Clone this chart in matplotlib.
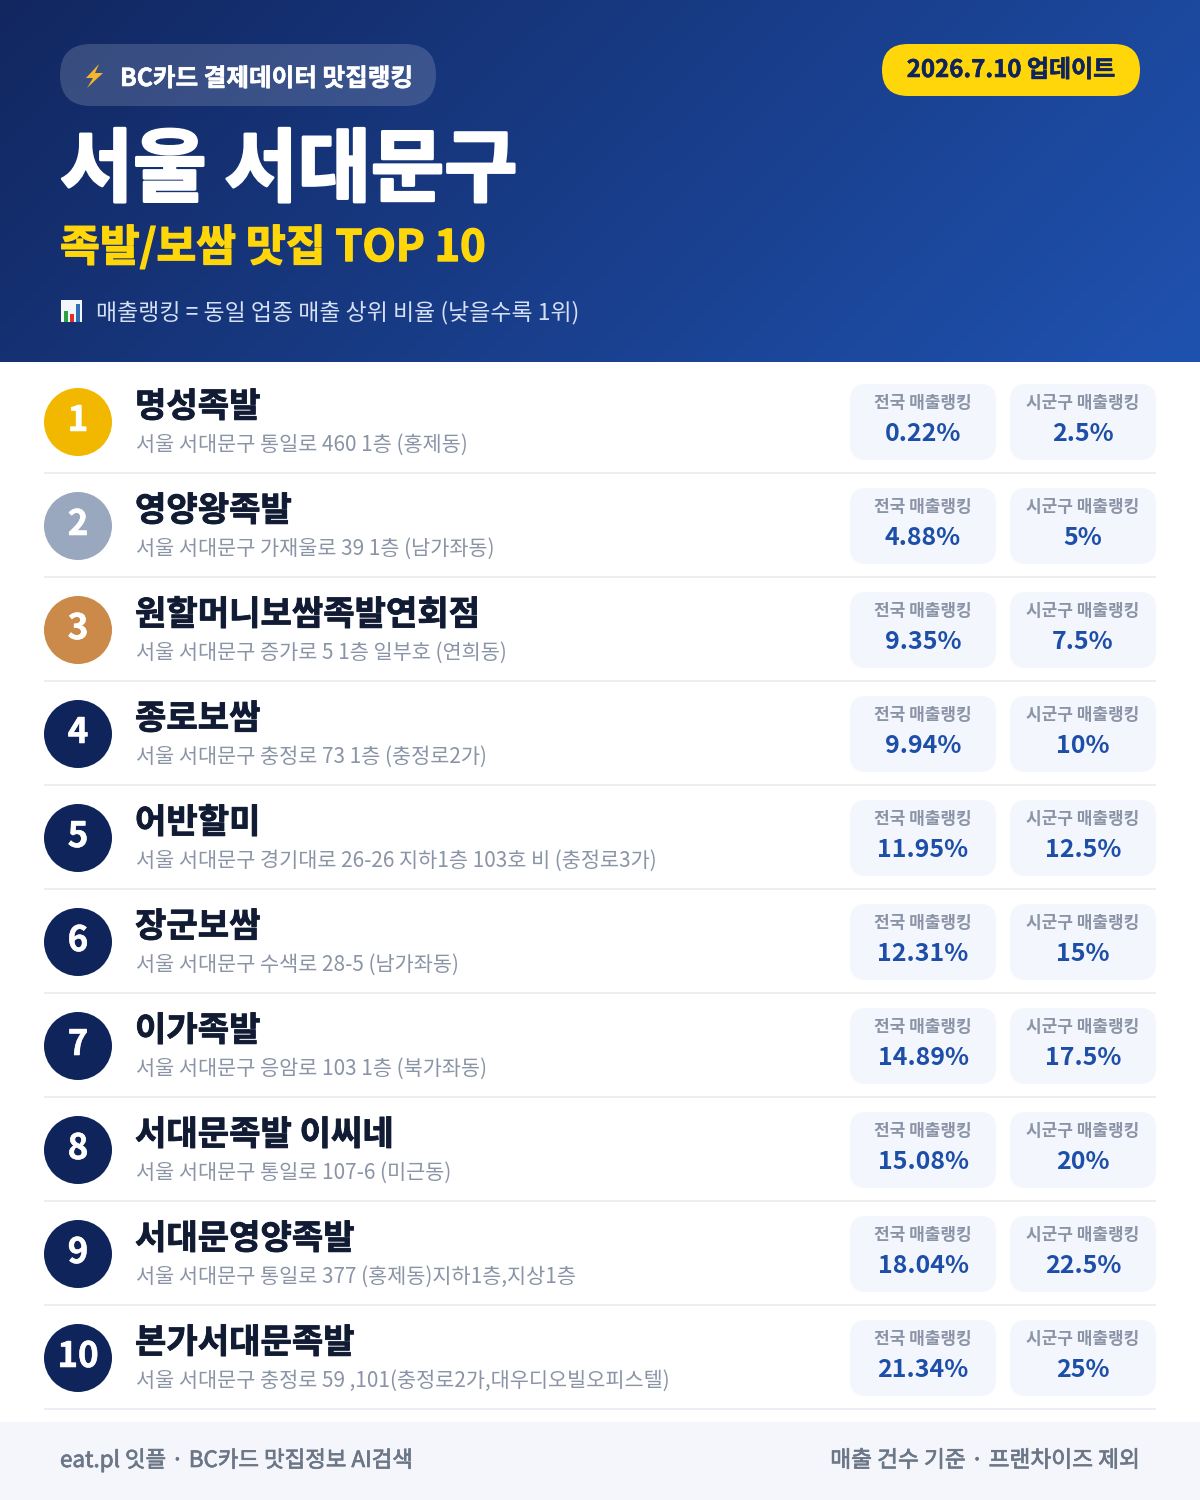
import numpy as np
import matplotlib
matplotlib.use('Agg')
import matplotlib.pyplot as plt
import matplotlib.patheffects as pe
from matplotlib.patches import FancyBboxPatch, Circle, Polygon, Rectangle

plt.rcParams['font.family'] = ['Noto Sans CJK KR', 'DejaVu Sans']

names = ['명성족발', '영양왕족발', '원할머니보쌈족발연회점', '종로보쌈', '어반할미',
         '장군보쌈', '이가족발', '서대문족발 이씨네', '서대문영양족발', '본가서대문족발']
addresses = ['서울 서대문구 통일로 460 1층 (홍제동)',
             '서울 서대문구 가재울로 39 1층 (남가좌동)',
             '서울 서대문구 증가로 5 1층 일부호 (연희동)',
             '서울 서대문구 충정로 73 1층 (충정로2가)',
             '서울 서대문구 경기대로 26-26 지하1층 103호 비 (충정로3가)',
             '서울 서대문구 수색로 28-5 (남가좌동)',
             '서울 서대문구 응암로 103 1층 (북가좌동)',
             '서울 서대문구 통일로 107-6 (미근동)',
             '서울 서대문구 통일로 377 (홍제동)지하1층,지상1층',
             '서울 서대문구 충정로 59 ,101(충정로2가,대우디오빌오피스텔)']
national_rank = ['0.22%', '4.88%', '9.35%', '9.94%', '11.95%',
                 '12.31%', '14.89%', '15.08%', '18.04%', '21.34%']
district_rank = ['2.5%', '5%', '7.5%', '10%', '12.5%',
                 '15%', '17.5%', '20%', '22.5%', '25%']
badge_colors = ['#f2b800', '#9aa8bf', '#cb8a4a'] + ['#10245c'] * 7


def px(size):
    # sizes below are in image pixels
    return size * 0.72


def rbox(ax, x0, y0, x1, y1, r, color, alpha=1.0, z=2):
    ax.add_patch(FancyBboxPatch((x0 + r, y0 + r), x1 - x0 - 2 * r, y1 - y0 - 2 * r,
                                boxstyle='round,pad=%f,rounding_size=%f' % (r, r),
                                fc=color, ec='none', alpha=alpha, zorder=z))


def label(ax, x, y, s, color, size, weight='regular', ha='left', thick=0):
    # thick fattens the glyphs a little, the installed bold is lighter than the reference
    t = ax.text(x, y, s, color=color, fontsize=px(size), fontweight=weight, ha=ha, zorder=3)
    if thick:
        t.set_path_effects([pe.withStroke(linewidth=thick, foreground=color)])
    return t


fig = plt.figure(figsize=(12, 15), dpi=100)
ax = fig.add_axes([0, 0, 1, 1])

# header gradient, runs from top left to bottom right
gx, gy = np.meshgrid(np.linspace(0, 1, 300), np.linspace(0, 1, 90))
t = (gx * 1200 + gy * 362) / (1200 + 362)
c0 = np.array([0x12, 0x27, 0x60]) / 255
c1 = np.array([0x1f, 0x52, 0xb0]) / 255
grad = c0 + (c1 - c0) * t[..., None]
ax.imshow(grad, extent=(0, 1200, 362, 0), aspect='auto', zorder=1)
ax.set_xlim(0, 1200)
ax.set_ylim(1500, 0)
ax.axis('off')

# header
rbox(ax, 60, 44, 436, 106, 31, 'white', alpha=0.16)
ax.add_patch(Polygon([(99, 64), (86, 78), (93, 78), (87, 88), (103, 73), (95, 73)],
                     fc='#f5b52e', ec='none', zorder=3))
label(ax, 120, 86, 'BC카드 결제데이터 맛집랭킹', 'white', 24.6, 'bold', thick=0.4)
rbox(ax, 882, 44, 1140, 96, 26, '#ffd60a')
label(ax, 1011, 77, '2026.7.10 업데이트', '#10245c', 24, 'bold', ha='center', thick=0.4)
label(ax, 60, 195, '서울 서대문구', 'white', 79.6, 'bold', thick=2.0)
label(ax, 60, 261, '족발/보쌈 맛집 TOP 10', '#ffd60a', 43.3, 'bold', thick=1.0)
ax.add_patch(Rectangle((61, 300), 21, 22, fc='#f2f5fa', ec='none', zorder=3))
ax.add_patch(Rectangle((64, 311), 4, 11, fc='#2f9e44', ec='none', zorder=4))
ax.add_patch(Rectangle((70, 314), 4, 8, fc='#d9342b', ec='none', zorder=4))
ax.add_patch(Rectangle((76, 304), 4, 18, fc='#2f6fb5', ec='none', zorder=4))
label(ax, 96, 319, '매출랭킹 = 동일 업종 매출 상위 비율 (낮을수록 1위)', '#d5e0f5', 22.9)

# rows
for i in range(len(names)):
    dy = 104 * i
    ax.add_patch(Circle((78, 422 + dy), 34, fc=badge_colors[i], ec='none', zorder=2))
    label(ax, 78, 431 + dy, str(i + 1), 'white', 35, 'bold', ha='center', thick=0.4)
    label(ax, 135, 417 + dy, names[i], '#111b33', 34.1, 'bold', thick=0.6)
    label(ax, 136, 451 + dy, addresses[i], '#8a94a6', 20.8)
    rbox(ax, 850, 384 + dy, 996, 460 + dy, 16, '#f3f6fc')
    rbox(ax, 1010, 384 + dy, 1156, 460 + dy, 16, '#f3f6fc')
    label(ax, 923, 408 + dy, '전국 매출랭킹', '#8a94a6', 17, 'bold', ha='center')
    label(ax, 1083, 408 + dy, '시군구 매출랭킹', '#8a94a6', 17, 'bold', ha='center')
    label(ax, 923, 441 + dy, national_rank[i], '#1e4fa8', 25, 'bold', ha='center')
    label(ax, 1083, 441 + dy, district_rank[i], '#1e4fa8', 25, 'bold', ha='center')
    ax.add_patch(Rectangle((44, 472 + dy), 1112, 2, fc='#eceef1', ec='none', zorder=2))

# footer
ax.add_patch(Rectangle((0, 1422), 1200, 78, fc='#f4f6fb', ec='none', zorder=1))
label(ax, 60, 1467, 'eat.pl 잇플 · BC카드 맛집정보 AI검색', '#6b7687', 22.4, thick=0.5)
label(ax, 1140, 1467, '매출 건수 기준 · 프랜차이즈 제외', '#6b7687', 22.7, ha='right', thick=0.5)

fig.savefig('out.png', dpi=100, facecolor='white')
